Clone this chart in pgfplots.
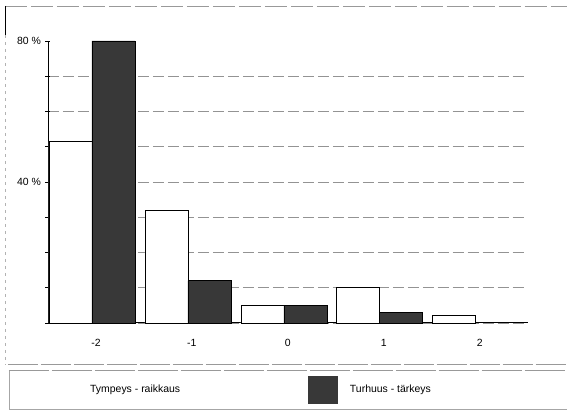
\documentclass[border=0pt]{standalone}
\usepackage{pgfplots}
\pgfplotsset{compat=1.18}
\usepackage{fontspec}
\setmainfont{Liberation Sans}
\definecolor{darkbar}{rgb}{0.22,0.22,0.22}
\begin{document}
\begin{tikzpicture}[x=1bp,y=1bp]
\path (0,0) rectangle (567,413);
% outer frame of chart area
\draw[gray!80, dash pattern=on 22bp off 4bp, line width=0.7bp] (5,407) -- (567,407);
\draw[black, line width=0.8bp] (5,407) -- (5,378);
\draw[gray!60, dash pattern=on 3bp off 4bp, line width=0.5bp] (5,378) -- (5,48);
\draw[gray!80, dash pattern=on 30bp off 3bp, line width=0.7bp] (8,48) -- (567,48);
% legend box
\draw[gray!80, dash pattern=on 40bp off 3bp, line width=0.7bp] (9,42) -- (567,42);
\draw[gray!70, line width=0.6bp] (9,42) -- (9,3) -- (567,3);
\fill[darkbar] (308,9) rectangle (338,37);
\node[anchor=west, font=\fontsize{10.5}{12}\selectfont, inner sep=0pt] at (90,23) {Tympeys - raikkaus};
\node[anchor=west, font=\fontsize{10.5}{12}\selectfont, inner sep=0pt] at (350,23) {Turhuus - t\"arkeys};
\begin{axis}[
  at={(48bp,90bp)}, anchor=south west,
  scale only axis, width=480bp, height=282bp,
  xmin=-0.5, xmax=4.5, ymin=0, ymax=80,
  axis x line=bottom, axis y line=left,
  axis line style={-, black, line width=0.8bp},
  xtick={0,1,2,3,4}, xticklabels={-2,-1,0,1,2},
  x tick style={draw=none},
  extra x ticks={-0.5,0.5,1.5,2.5,3.5,4.5},
  extra x tick labels={},
  extra x tick style={tick style={draw=black, line width=0.6bp}, major tick length=5bp, tick align=center},
  ytick={0,10,...,70}, yticklabels={,,,,40 \%,,,},
  extra y ticks={80}, extra y tick labels={80 \%},
  extra y tick style={grid=none},
  y tick style={black, line width=0.6bp},
  major tick length=5bp, tick align=center,
  ymajorgrids,
  major grid style={gray!85, dash pattern=on 11bp off 4bp, line width=0.6bp},
  tick label style={font=\fontsize{10.5}{12}\selectfont},
  xticklabel style={yshift=-10bp},
  yticklabel style={xshift=-1bp},
  clip=false,
]
\addplot[ybar, bar width=43bp, bar shift=-25.5bp, fill=white, draw=black, line width=0.6bp]
  coordinates {(0,51.5) (1,32) (2,5) (3,10) (4,2)};
\addplot[ybar, bar width=43bp, bar shift=17.5bp, fill=darkbar, draw=black, line width=0.6bp]
  coordinates {(0,80) (1,12) (2,5) (3,3)};
\end{axis}
\end{tikzpicture}
\end{document}
